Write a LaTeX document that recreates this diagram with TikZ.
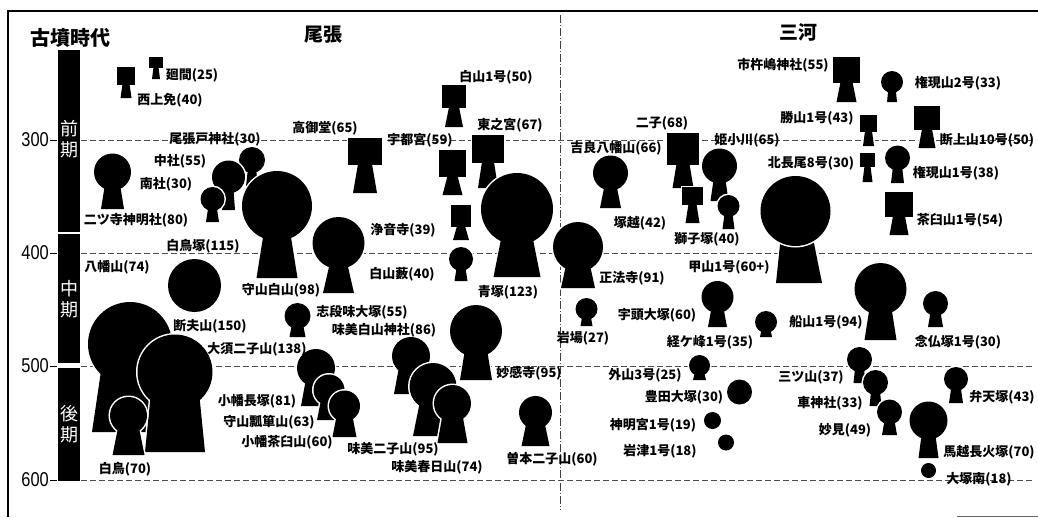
\documentclass[tikz,border=0pt]{standalone}
\usepackage{fontspec}
\setmainfont{Noto Sans CJK JP}
\newfontfamily\numfont{Liberation Sans}[FakeStretch=0.82]

% keyhole mound: x, y, radius, neck half width, foot depth, foot half width
\newcommand{\enpun}[6]{%
  \draw[halo] (#1,#2) circle (#3);
  \draw[halo] (#1-#4,#2) -- (#1-#6,#2+#5) -- (#1+#6,#2+#5) -- (#1+#4,#2) -- cycle;
  \fill (#1,#2) circle (#3);
  \fill (#1-#4,#2) -- (#1-#6,#2+#5) -- (#1+#6,#2+#5) -- (#1+#4,#2) -- cycle;
}
% square-front mound: x, y, half width, half height, neck half width, foot depth, foot half width
\newcommand{\hopun}[7]{%
  \draw[halo] (#1-#3,#2-#4) rectangle (#1+#3,#2+#4);
  \draw[halo] (#1-#5,#2+#4-1) -- (#1-#7,#2+#4+#6) -- (#1+#7,#2+#4+#6) -- (#1+#5,#2+#4-1) -- cycle;
  \fill (#1-#3,#2-#4) rectangle (#1+#3,#2+#4);
  \fill (#1-#5,#2+#4-1) -- (#1-#7,#2+#4+#6) -- (#1+#7,#2+#4+#6) -- (#1+#5,#2+#4-1) -- cycle;
}
% round mound: x, y, radius
\newcommand{\enfun}[3]{%
  \draw[halo] (#1,#2) circle (#3);
  \fill (#1,#2) circle (#3);
}

\tikzset{
  halo/.style={draw=white, line width=3pt},
  lbl/.style={font=\bfseries\fontsize{13}{13}\selectfont, inner sep=0pt},
  head/.style={font=\bfseries\fontsize{19}{19}\selectfont, inner sep=0pt},
  num/.style={font=\numfont\fontsize{20}{20}\selectfont, inner sep=0pt},
  period/.style={font=\fontsize{18}{21}\selectfont, text=white, align=center, inner sep=0pt},
  yrline/.style={black!70, line width=0.6pt, dash pattern=on 6pt off 3pt},
  divider/.style={black!75, line width=0.6pt, dash pattern=on 8pt off 2pt on 1pt off 2pt},
}

\begin{document}
\begin{tikzpicture}[x=1pt, y=-1pt]
\useasboundingbox (0,0) rectangle (1038,517);

% frame
\draw[line width=1.2pt] (8,517) -- (8,11) -- (1038,11);
\draw[black!60, line width=0.8pt] (957,516) -- (1038,516);

% year lines
\draw[yrline] (81,140) -- (1032,140);
\draw[yrline] (81,253) -- (1032,253);
\draw[yrline] (81,366) -- (1032,366);
\draw[yrline] (81,480) -- (1032,480);
\draw[line width=0.8pt] (50,140) -- (57,140);
\draw[line width=0.8pt] (50,253) -- (57,253);
\draw[line width=0.8pt] (50,366) -- (57,366);
\draw[line width=0.8pt] (50,480) -- (57,480);
\node[num, anchor=east] (y300) at (49,140) {300};
\node[num, anchor=east] (y400) at (49,253) {400};
\node[num, anchor=east] (y500) at (49,366) {500};
\node[num, anchor=east] (y600) at (49,480) {600};

% Owari / Mikawa divider
\draw[divider] (560,15) -- (560,510);

% headings
\node[head, font=\bfseries\fontsize{20}{20}\selectfont] (era) at (70,38) {古墳時代};
\node[head] (owari) at (323,35) {尾張};
\node[head] (mikawa) at (798,32) {三河};

% period bar
\fill (58,50) rectangle (80,232);
\fill (58,234) rectangle (80,363);
\fill (58,368) rectangle (80,481);
\node[period] (zenki) at (69,139) {前\\期};
\node[period] (chuki) at (69,299) {中\\期};
\node[period] (koki) at (69,424) {後\\期};

%% Owari mounds
\hopun{156}{62.5}{7}{5.5}{2.5}{11}{4}
\hopun{126}{76}{9}{9}{3.5}{13}{5.5}
\hopun{365}{151.5}{17}{13.5}{7}{28}{12}
\hopun{454}{96.5}{12}{11.5}{5}{19}{9}
\hopun{452.5}{163.5}{13.5}{13.5}{5}{18}{10}
\hopun{488}{149}{16}{14}{6}{25}{10}
\hopun{461}{216}{10}{11}{4}{13}{8}
\enpun{112.5}{172}{18.5}{5.5}{37}{11.5}
\enpun{252}{160}{13}{3}{26}{6}
\enpun{228.5}{177}{16.5}{4}{33}{6.5}
\enpun{212.5}{199}{12}{3}{23}{6.5}
\enpun{277}{206}{35}{9}{72}{20.5}
\enpun{338.5}{243}{26}{4}{50}{15.5}
\enpun{461}{259}{12}{3}{22}{6.5}
\enpun{517}{209}{36}{10}{68}{23.5}
\enfun{194.5}{285.5}{26.5}
\enpun{130}{344}{42}{25}{88}{38}
\enpun{175}{372}{37.5}{22}{80}{30}
\enpun{128.5}{415.5}{18.5}{8}{39.5}{16}
\enpun{297.5}{316}{13}{4}{21}{8}
\enpun{316}{368}{19}{8}{38}{15}
\enpun{329}{390}{15.5}{6}{30}{12}
\enpun{344.5}{406}{15.5}{6}{31}{12}
\enpun{411}{356}{19}{10}{38}{17}
\enpun{433}{386.5}{23.5}{10}{49.5}{20}
\enpun{452.5}{403.5}{18.5}{8}{39.5}{15}
\enpun{476}{331}{26}{8}{49}{16}
\enpun{535.5}{412.5}{16.5}{7}{33.5}{14}

%% Mikawa mounds
\hopun{846.5}{70}{13.5}{13}{6}{19}{10}
\hopun{868.5}{123.5}{8.5}{8.5}{3.5}{14}{5.5}
\hopun{927}{118}{13}{12}{5}{18}{8.5}
\hopun{867.5}{160}{7.5}{7}{3}{15}{5}
\hopun{899}{204.5}{14}{12.5}{6}{18}{9.5}
\hopun{683}{149}{16}{16}{6.5}{23}{10.5}
\enpun{719.5}{166}{17.5}{4}{35}{9}
\hopun{692.5}{196}{10.5}{9}{4}{18}{7}
\enpun{728.5}{206}{11}{3}{23}{6}
\enpun{892}{82}{11}{3}{20}{5}
\enpun{897.5}{158}{12.5}{3.5}{25}{6.5}
\enpun{610.5}{173}{17.5}{3.5}{35}{10.5}
\enpun{578}{247}{25}{8}{41}{17}
% big mound, mound ring over its front
\draw[halo] (783.5,211) -- (776,283) -- (822,283) -- (807.5,211) -- cycle;
\fill (783.5,211) -- (776,283) -- (822,283) -- (807.5,211) -- cycle;
\draw[halo] (795.5,211) circle (35);
\fill (795.5,211) circle (35);
\enpun{717.5}{297}{16}{4}{30}{9.5}
\enpun{766}{322}{11}{3}{15}{6}
\enpun{586.5}{309}{11}{3}{17}{6}
\enpun{880.5}{289}{26}{8}{51}{16}
\enpun{935.5}{303.5}{12.5}{3.5}{23.5}{7.5}
\enpun{859.5}{359.5}{12.5}{3.5}{23.5}{6}
\enpun{875.5}{382.5}{12.5}{3.5}{23.5}{6}
\enpun{889.5}{412}{12.5}{3.5}{23}{7.5}
\enpun{928.5}{420.5}{19}{5}{37.5}{10}
\enpun{956}{379}{12}{3.5}{24}{7}
\enpun{699.5}{365.5}{10.5}{3}{14.5}{6.5}
\enfun{739.5}{392}{12.5}
\enfun{712.5}{420.5}{8.5}
\enfun{726}{442.5}{8}
\enfun{928.5}{470.5}{7.5}

%% Owari labels
\node[lbl] (hazama) at (192,75) {廻間(25)};
\node[lbl] (nishikamimen) at (170,100) {西上免(40)};
\node[lbl] (hakusan1) at (496,77) {白山1号(50)};
\node[lbl] (takamido) at (325,128) {高御堂(65)};
\node[lbl] (higashinomiya) at (510,125) {東之宮(67)};
\node[lbl] (owaribe) at (215,139) {尾張戸神社(30)};
\node[lbl] (utsunomiya) at (420,140) {宇都宮(59)};
\node[lbl] (nakasha) at (180,161) {中社(55)};
\node[lbl] (minamisha) at (166,184) {南社(30)};
\node[lbl] (futatsudera) at (136,220) {二ツ寺神明社(80)};
\node[lbl] (joonji) at (403,230) {浄音寺(39)};
\node[lbl] (shiratoriz) at (203,246) {白鳥塚(115)};
\node[lbl] (hachimanyama) at (117,267) {八幡山(74)};
\node[lbl] (hakusanyabu) at (402,274) {白山藪(40)};
\node[lbl] (moriyamahakusan) at (281,290) {守山白山(98)};
\node[lbl] (aozuka) at (508,292) {青塚(123)};
\node[lbl] (shidami) at (362,312) {志段味大塚(55)};
\node[lbl] (danpuyama) at (210,326) {断夫山(150)};
\node[lbl] (ajimahakusan) at (384,330) {味美白山神社(86)};
\node[lbl] (osufutagoyama) at (257,349) {大須二子山(138)};
\node[lbl] (myokanji) at (529,373) {妙感寺(95)};
\node[lbl] (obatanagatsuka) at (257,401) {小幡長塚(81)};
\node[lbl] (hyotanyama) at (269,422) {守山瓢箪山(63)};
\node[lbl] (chausuyama) at (287,442) {小幡茶臼山(60)};
\node[lbl] (ajimafutagoyama) at (393,449) {味美二子山(95)};
\node[lbl] (somoto) at (552,459) {曽本二子山(60)};
\node[lbl] (kasugayama) at (437,467) {味美春日山(74)};
\node[lbl] (shiratori) at (125,469) {白鳥(70)};

%% Mikawa labels
\node[lbl] (ichikishima) at (783,65) {市杵嶋神社(55)};
\node[lbl] (gongenyama2) at (958,83) {権現山2号(33)};
\node[lbl] (katsuyama) at (817,118) {勝山1号(43)};
\node[lbl] (futago) at (662,123) {二子(68)};
\node[lbl] (himeogawa) at (747,140) {姫小川(65)};
\node[lbl] (danjoyama) at (987,140) {断上山10号(50)};
\node[lbl] (kirahachiman) at (616,148) {吉良八幡山(66)};
\node[lbl] (kitanagao) at (811,163) {北長尾8号(30)};
\node[lbl] (gongenyama1) at (956,173) {権現山1号(38)};
\node[lbl] (chausu1) at (960,220) {茶臼山1号(54)};
\node[lbl] (tsukagoshi) at (640,223) {塚越(42)};
\node[lbl] (shishizuka) at (707,239) {獅子塚(40)};
\node[lbl] (kabutoyama) at (729,267) {甲山1号(60+)};
\node[lbl] (shobōji) at (632,278) {正法寺(91)};
\node[lbl] (utoo) at (657,315) {宇頭大塚(60)};
\node[lbl] (funayama) at (826,322) {船山1号(94)};
\node[lbl] (iwaba) at (583,338) {岩場(27)};
\node[lbl] (kyogamine) at (710,342) {経ケ峰1号(35)};
\node[lbl] (nenbutsu) at (958,342) {念仏塚1号(30)};
\node[lbl] (toyama) at (645,375) {外山3号(25)};
\node[lbl] (mitsuyama) at (811,377) {三ツ山(37)};
\node[lbl] (toyotaotsuka) at (684,397) {豊田大塚(30)};
\node[lbl] (bentenzuka) at (1002,397) {弁天塚(43)};
\node[lbl] (kurumajinja) at (830,403) {車神社(33)};
\node[lbl] (shinmeigu) at (653,425) {神明宮1号(19)};
\node[lbl] (myoken) at (845,430) {妙見(49)};
\node[lbl] (iwazu) at (660,451) {岩津1号(18)};
\node[lbl] (umakoshi) at (989,452) {馬越長火塚(70)};
\node[lbl] (otsukaminami) at (979,479) {大塚南(18)};

\end{tikzpicture}
\end{document}
